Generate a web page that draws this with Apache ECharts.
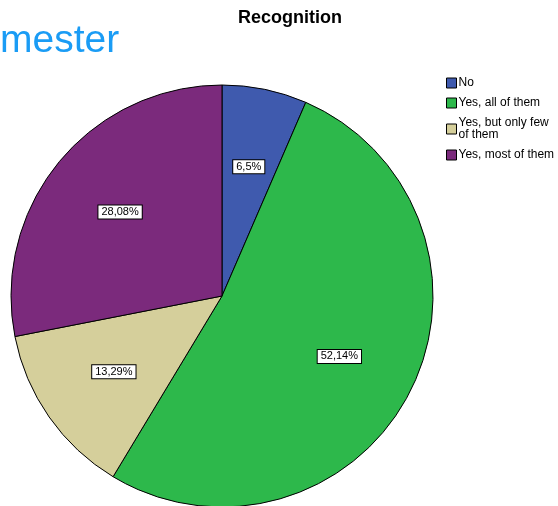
<!DOCTYPE html>
<html>
<head>
<meta charset="utf-8">
<script src="https://cdn.jsdelivr.net/npm/echarts@6/dist/echarts.min.js"></script>
<style>
  html, body { margin: 0; padding: 0; background: #fff; }
  #chart { width: 558px; height: 506px; }
</style>
</head>
<body>
<div id="chart"></div>
<script>
  // answers in the order SPSS draws them, clockwise from 12 o'clock
  const categories = ['No', 'Yes, all of them', 'Yes, but only few of them', 'Yes, most of them']
  const percents = [6.5, 52.14, 13.29, 28.08]
  const colors = ['#3f5aae', '#2db84b', '#d5cf9b', '#7b2a7c']

  const pieData = categories.map((name, i) => ({
    name: name,
    value: percents[i],
    itemStyle: { color: colors[i] }
  }))

  const chart = echarts.init(document.getElementById('chart'))
  chart.setOption({
    animation: false,
    title: [{
      text: 'Recognition',
      left: 238,
      top: 9,
      padding: 0,
      textStyle: { fontFamily: 'Liberation Sans', fontSize: 18, fontWeight: 'bold', color: '#000' }
    }, {
      text: 'mester',
      left: 0,
      top: 22,
      padding: 0,
      textStyle: { fontFamily: 'Liberation Sans', fontSize: 39, fontWeight: 'normal', color: '#1a9cf5' }
    }],
    legend: {
      orient: 'vertical',
      left: 446,
      top: 77,
      padding: 0,
      itemWidth: 10,
      itemHeight: 10,
      itemGap: 8,
      icon: 'rect',
      data: categories,
      formatter: name => name === 'Yes, but only few of them' ? 'Yes, but only few\nof them' : name,
      itemStyle: { borderColor: '#000', borderWidth: 1 },
      textStyle: { fontFamily: 'Liberation Sans', fontSize: 12, color: '#000', padding: [0, 0, 0, -3], lineHeight: 12 }
    },
    series: [{
      type: 'pie',
      center: [222, 296],
      radius: 211,
      startAngle: 90,
      clockwise: true,
      silent: true,
      itemStyle: { borderColor: '#000', borderWidth: 1 },
      label: { show: false },
      labelLine: { show: false },
      data: pieData
    }, {
      // label carrier: transparent twin so labels sit further out than r/2
      type: 'pie',
      center: [222, 296],
      radius: 258,
      startAngle: 90,
      clockwise: true,
      silent: true,
      itemStyle: { color: 'rgba(0,0,0,0)', borderWidth: 0 },
      label: {
        show: true,
        position: 'inside',
        formatter: p => String(p.value).replace('.', ',') + '%',
        fontFamily: 'Liberation Sans',
        fontSize: 11,
        lineHeight: 11,
        color: '#000',
        backgroundColor: '#fff',
        borderColor: '#000',
        borderWidth: 1,
        padding: [1, 3, 1, 3]
      },
      labelLine: { show: false },
      data: pieData.map(d => ({ name: d.name, value: d.value }))
    }]
  })
</script>
</body>
</html>
